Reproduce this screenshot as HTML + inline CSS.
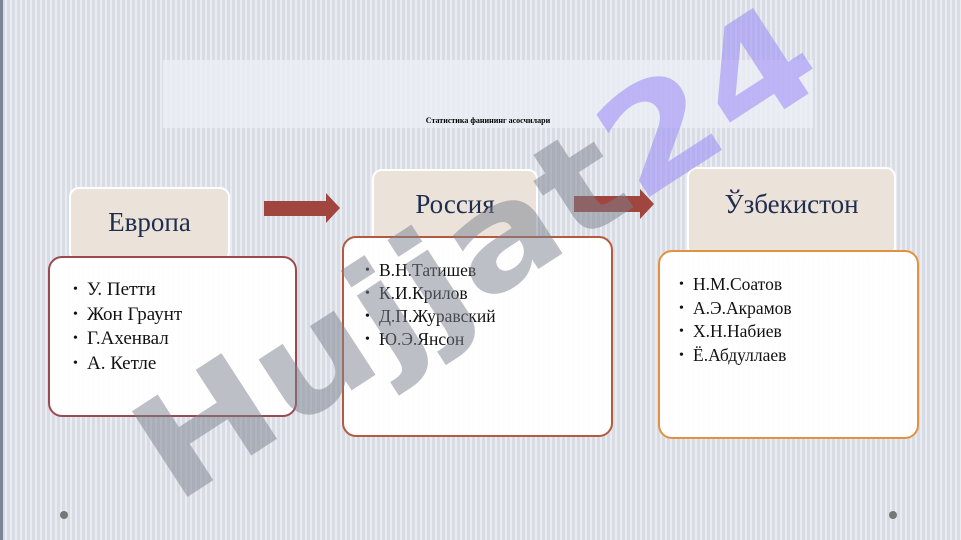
<!DOCTYPE html>
<html><head><meta charset="utf-8"><style>
body{margin:0;width:961px;height:540px;overflow:hidden;position:relative;font-family:"Liberation Serif","DejaVu Serif",serif;
background:#dde2ea repeating-linear-gradient(90deg,rgba(255,255,255,0.35) 0 2px,rgba(200,205,215,0.25) 2px 5px);}
.a{position:absolute;box-sizing:border-box}
.hd{background:#ebe3da;border:2px solid #fff;border-radius:10px;color:#1f2d4e;font-size:27px;text-align:center}
.bd{background:rgba(255,255,255,0.97);border-radius:14px;border:2px solid}
.bd ul{margin:0;padding:0 0 0 14px;list-style:none}
.bd li{position:relative;color:#111}
.bd li:before{content:"•";position:absolute;left:-14px;font-size:14px}
</style></head><body>
<div class="a" style="left:0;top:0;width:3px;height:540px;background:#7d8594"></div>
<div class="a" style="left:163px;top:60px;width:650px;height:68px;background:rgba(235,238,244,0.85)"></div>
<div class="a" style="left:163px;top:116px;width:650px;text-align:center;font-size:8px;font-weight:bold">Статистика фанининг асосчилари</div>

<div class="a hd" style="left:69px;top:187px;width:161px;height:75px;padding-top:18px">Европа</div>
<div class="a bd" style="left:48px;top:256px;width:249px;height:161px;border-color:#9b4a4f;padding:20px 0 0 23px;font-size:19px;line-height:24.5px"><ul><li>У. Петти</li><li>Жон Граунт</li><li>Г.Ахенвал</li><li>А. Кетле</li></ul></div>

<div class="a hd" style="left:372px;top:169px;width:166px;height:75px;padding-top:18px">Россия</div>
<div class="a bd" style="left:342px;top:236px;width:271px;height:201px;border-color:#b55a3e;padding:21px 0 0 21px;font-size:17.5px;line-height:23px"><ul><li>В.Н.Татишев</li><li>К.И.Крилов</li><li>Д.П.Журавский</li><li>Ю.Э.Янсон</li></ul></div>

<div class="a hd" style="left:687px;top:167px;width:209px;height:90px;padding-top:20px">Ўзбекистон</div>
<div class="a bd" style="left:658px;top:250px;width:261px;height:189px;border-color:#e39040;padding:21px 0 0 19px;font-size:17.5px;line-height:23.5px"><ul><li>Н.М.Соатов</li><li>А.Э.Акрамов</li><li>Х.Н.Набиев</li><li>Ё.Абдуллаев</li></ul></div>

<svg class="a" style="left:0;top:0" width="961" height="540">
<polygon points="264,201 326,201 326,193 340,208 326,223 326,216 264,216" fill="#a0463f"/>
<polygon points="574,196 640,196 640,189 654,204 640,219 640,212 574,212" fill="#a0463f"/>
<circle cx="64" cy="515" r="4" fill="#777"/><circle cx="893" cy="515" r="4" fill="#777"/>
<text x="175" y="505" transform="rotate(-33 175 505)" font-family="DejaVu Sans" font-weight="bold" font-size="140" textLength="780" lengthAdjust="spacingAndGlyphs" fill="#7a808c" fill-opacity="0.5">Hujjat<tspan fill="#9f90f5" fill-opacity="0.6">24</tspan></text>
</svg>
</body></html>
